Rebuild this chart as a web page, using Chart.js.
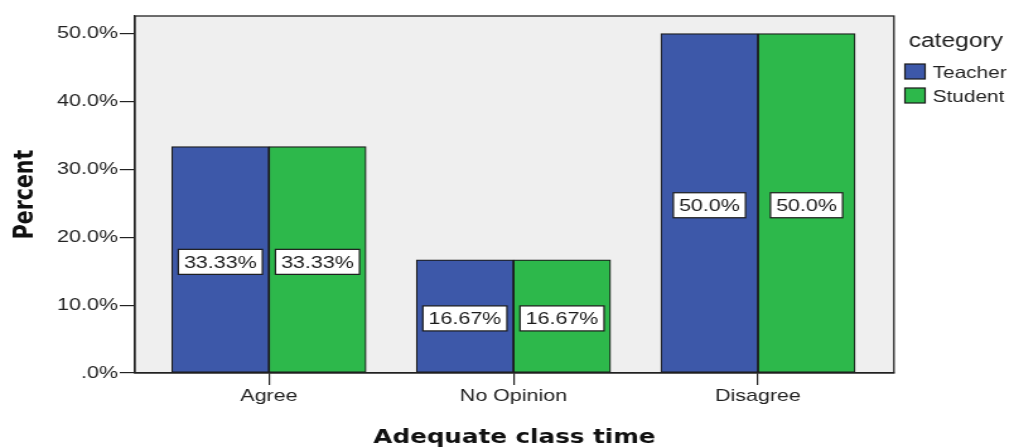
<!DOCTYPE html>
<html>
<head>
<meta charset="utf-8">
<script src="https://cdn.jsdelivr.net/npm/chart.js@4.4.1/dist/chart.umd.min.js"></script>
<style>
html,body{margin:0;padding:0;background:#ffffff;overflow:hidden}
#c{display:block;background:#ffffff}
</style>
</head>
<body>
<canvas id="c" width="800" height="448" style="width:1009px;height:448px"></canvas>
<script>
// ---- data ----
const categories = ['Agree', 'No Opinion', 'Disagree'];
const seriesNames = ['Teacher', 'Student'];
const teacherValues = [33.33, 16.67, 50.0];
const studentValues = [33.33, 16.67, 50.0];
const teacherLabels = ['33.33%', '16.67%', '50.0%'];
const studentLabels = ['33.33%', '16.67%', '50.0%'];
const yTickValues = [0, 10, 20, 30, 40, 50];
const yTickLabels = ['.0%', '10.0%', '20.0%', '30.0%', '40.0%', '50.0%'];
const xTitle = 'Adequate class time';
const yTitle = 'Percent';
const legendTitle = 'category';

const BLUE = '#3d58a9';
const GREEN = '#2db84b';
const seriesValues = [teacherValues, studentValues];
const seriesLabels = [teacherLabels, studentLabels];
const seriesColors = [BLUE, GREEN];

const decor = {
  id: 'decor',
  beforeDraw(chart) {
    const {ctx, chartArea: a} = chart;
    ctx.save();
    ctx.fillStyle = '#efefef';
    ctx.fillRect(a.left, a.top, a.right - a.left, a.bottom - a.top);
    ctx.restore();
  },
  afterDatasetsDraw(chart) {
    const {ctx, chartArea: a} = chart;
    const y = chart.scales.y;
    ctx.save();
    // value labels
    ctx.font = '17px "Liberation Sans", Arial, sans-serif';
    ctx.textAlign = 'center';
    ctx.textBaseline = 'middle';
    chart.data.datasets.forEach((ds, i) => {
      const meta = chart.getDatasetMeta(i);
      meta.data.forEach((bar, j) => {
        const txt = seriesLabels[i][j];
        const tw = ctx.measureText(txt).width;
        const w = tw + 9, h = 25;
        const cx = bar.x;
        const cy = y.getPixelForValue(seriesValues[i][j] / 2) + 2;
        ctx.fillStyle = '#ffffff';
        ctx.fillRect(cx - w / 2, cy - h / 2, w, h);
        ctx.strokeStyle = '#1a1a1a';
        ctx.lineWidth = 1.2;
        ctx.strokeRect(cx - w / 2, cy - h / 2, w, h);
        ctx.fillStyle = '#1a1a1a';
        ctx.fillText(txt, cx, cy + 1);
      });
    });
    // frame
    ctx.strokeStyle = '#222222';
    ctx.lineWidth = 1.3;
    ctx.strokeRect(a.left, a.top, a.right - a.left, a.bottom - a.top);
    ctx.restore();
  },
  afterDraw(chart) {
    const {ctx, chartArea: a} = chart;
    ctx.save();
    ctx.fillStyle = '#111111';
    // x title
    ctx.font = 'bold 19.5px "DejaVu Sans", sans-serif';
    ctx.textAlign = 'center';
    ctx.textBaseline = 'alphabetic';
    ctx.fillText(xTitle, (a.left + a.right) / 2, 443);
    // y title
    ctx.save();
    ctx.translate(25.5, (a.top + a.bottom) / 2);
    ctx.rotate(-Math.PI / 2);
    ctx.font = 'bold 20.5px "DejaVu Sans", sans-serif';
    ctx.fillText(yTitle, 0, 0);
    ctx.restore();
    // legend
    ctx.textAlign = 'left';
    ctx.fillStyle = '#222222';
    ctx.font = '19.5px "Liberation Sans", Arial, sans-serif';
    ctx.fillText(legendTitle, 720.5, 47);
    ctx.font = '16.5px "Liberation Sans", Arial, sans-serif';
    chart.data.datasets.forEach((ds, i) => {
      const by = 64 + i * 24;
      ctx.fillStyle = ds.backgroundColor;
      ctx.fillRect(717.5, by, 16, 15);
      ctx.strokeStyle = '#1a1a1a';
      ctx.lineWidth = 1.2;
      ctx.strokeRect(717.5, by, 16, 15);
      ctx.fillStyle = '#222222';
      ctx.fillText(ds.label, 739.5, by + 14);
    });
    ctx.restore();
  }
};

new Chart(document.getElementById('c'), {
  type: 'bar',
  data: {
    datasets: seriesNames.map((name, i) => ({
      label: name,
      data: seriesValues[i].map((v, j) => ({x: j, y: v})),
      backgroundColor: seriesColors[i],
      borderColor: '#1a1a1a',
      borderWidth: 1.2,
      borderSkipped: false,
      barThickness: 77
    }))
  },
  options: {
    responsive: false,
    animation: false,
    events: [],
    devicePixelRatio: 1,
    layout: {padding: {left: 0, top: 16, right: 91.2, bottom: 0}},
    plugins: {legend: {display: false}, tooltip: {enabled: false}},
    scales: {
      x: {
        type: 'linear',
        min: -0.548,
        max: 2.556,
        offset: false,
        grid: {offset: false, drawOnChartArea: false, drawTicks: true, tickLength: 12, color: '#222222', lineWidth: 1.2},
        border: {display: true, color: '#222222', width: 1.2},
        afterBuildTicks: (s) => { s.ticks = categories.map((c, i) => ({value: i})); },
        afterFit: (s) => { s.height = 75; },
        ticks: {
          autoSkip: false, maxRotation: 0, minRotation: 0, padding: 1,
          color: '#222222',
          font: {family: '"Liberation Sans", Arial, sans-serif', size: 17},
          callback: (v) => categories[v]
        }
      },
      y: {
        min: 0,
        max: 52.58,
        grid: {drawOnChartArea: false, drawTicks: true, tickLength: 12, color: '#222222', lineWidth: 1.2},
        border: {display: true, color: '#222222', width: 1.2},
        afterBuildTicks: (s) => { s.ticks = yTickValues.map(v => ({value: v})); },
        afterFit: (s) => { s.width = 107; },
        ticks: {
          padding: 1.5,
          color: '#222222',
          font: {family: '"Liberation Sans", Arial, sans-serif', size: 17},
          callback: (v) => yTickLabels[yTickValues.indexOf(v)]
        }
      }
    }
  },
  plugins: [decor]
});
</script>
</body>
</html>
